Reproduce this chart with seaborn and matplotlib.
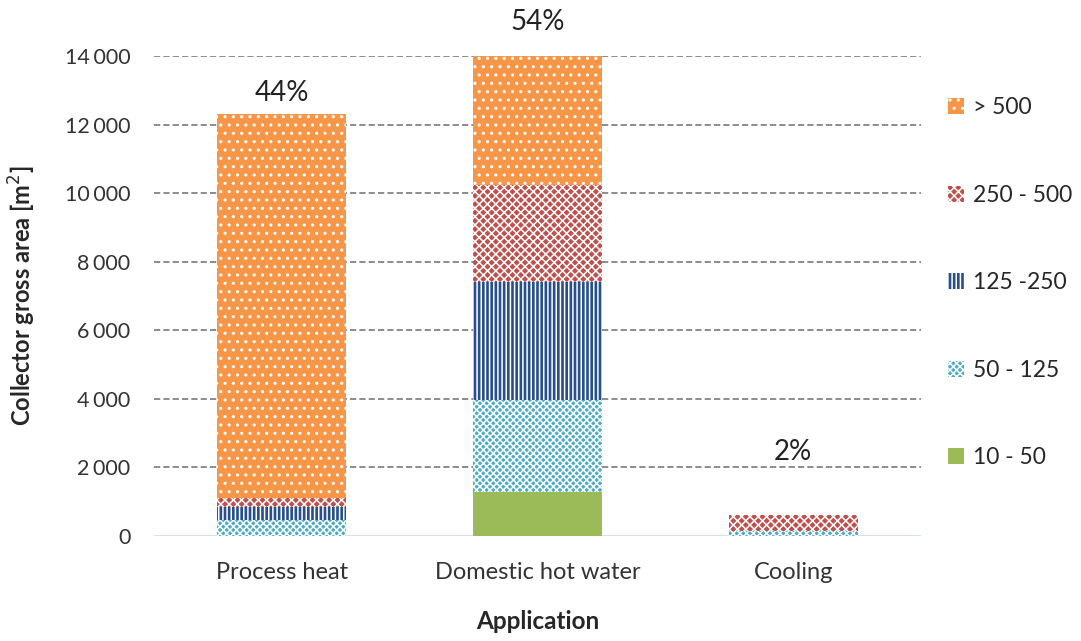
import matplotlib
matplotlib.use("Agg")
import matplotlib.pyplot as plt
import matplotlib.ticker as mticker
from matplotlib.patches import Patch
import numpy as np
import pandas as pd
import seaborn as sns

# Collector gross area [m²] by application and system size class
applications = ["Process heat", "Domestic hot water", "Cooling"]
size_classes = ["10 - 50", "50 - 125", "125 -250", "250 - 500", "> 500"]
area_10_50 = [0, 1280, 0]
area_50_125 = [470, 2690, 150]
area_125_250 = [380, 3440, 0]
area_250_500 = [260, 2830, 460]
area_over_500 = [11190, 3760, 0]
share_labels = ["44%", "54%", "2%"]
yticks = [0, 2000, 4000, 6000, 8000, 10000, 12000, 14000]

series = [area_10_50, area_50_125, area_125_250, area_250_500, area_over_500]
colors = ["#9BBB59", "#4BACC6", "#264F8C", "#C0504D", "#F79646"]
hatches = [None, "xxxxx", "||||", "xxxx", ".."]

sns.set_style("white")
plt.rcParams["font.family"] = ["Lato", "DejaVu Sans"]
plt.rcParams["hatch.linewidth"] = 1.1

fig = plt.figure(figsize=(10.81, 6.41), dpi=100)
ax = fig.add_axes([0.1425, 0.1638, 0.7095, 0.7488])

cum = np.cumsum(np.array(series, dtype=float), axis=0)
# draw cumulative stacks from the top down so lower segments overlay upper ones
for i in range(len(series) - 1, -1, -1):
    df = pd.DataFrame({"Application": applications, "Area": cum[i]})
    sns.barplot(data=df, x="Application", y="Area", color=colors[i],
                saturation=1, width=0.505, hatch=hatches[i],
                edgecolor="white", linewidth=0, ax=ax, zorder=3)

ax.set_xlim(-0.5, 2.5)
ax.set_ylim(0, 14000)
ax.set_yticks(yticks)
ax.yaxis.set_major_formatter(mticker.FuncFormatter(
    lambda v, p: f"{int(v):,}".replace(",", "\u2006") if v else "0"))
for y in yticks[1:]:
    ax.axhline(y, color="#8C8C8C", lw=1.4, ls=(0, (3.2, 1.6)), zorder=1)
ax.axhline(0, color="#D6E2F0", lw=1.5, zorder=2)
for s in ax.spines.values():
    s.set_visible(False)
ax.tick_params(axis="both", length=0, colors="#333333")
ax.tick_params(axis="y", labelsize=15.5, pad=17)
ax.tick_params(axis="x", labelsize=17, pad=19)

totals = cum[-1]
label_offsets = [8, 21, 50]
for x, (t, lab, off) in enumerate(zip(totals, share_labels, label_offsets)):
    ax.annotate(lab, (x, t), xytext=(0, off), textcoords="offset pixels",
                ha="center", va="bottom", fontsize=20, color="#222222",
                annotation_clip=False)

ax.set_xlabel("Application", fontsize=17.5, fontweight="bold", labelpad=19)
ax.set_ylabel("Collector gross area [m$^2$]", fontsize=17, fontweight="bold",
              labelpad=19)

handles = [Patch(facecolor=colors[i], hatch=hatches[i], edgecolor="white",
                 linewidth=0, label=size_classes[i])
           for i in range(len(series) - 1, -1, -1)]
fig.legend(handles=handles, loc="upper left", bbox_to_anchor=(0.866, 0.866),
           frameon=False, fontsize=16.5, handlelength=0.7, handleheight=0.7,
           handletextpad=0.4, labelspacing=2.9, borderpad=0)

fig.savefig("out.png", dpi=100)
